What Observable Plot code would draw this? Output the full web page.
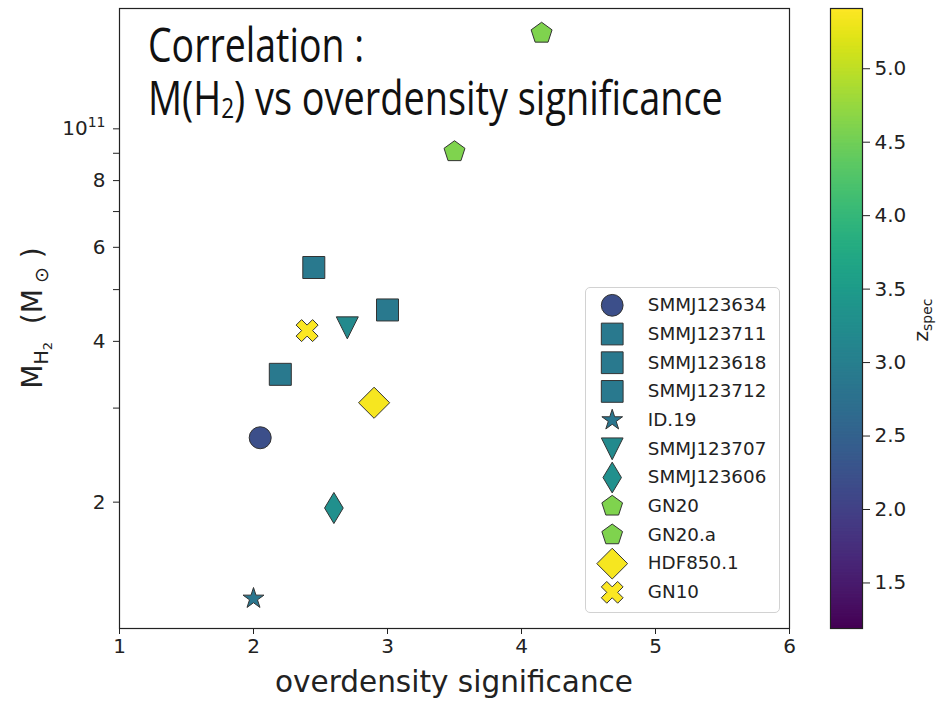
<!DOCTYPE html>
<html><head><meta charset="utf-8">
<script src="https://cdn.jsdelivr.net/npm/d3@7"></script>
<script src="https://cdn.jsdelivr.net/npm/@observablehq/plot@0.6"></script>
<style>
body{margin:0;background:#fff;}
#wrap{position:relative;width:940px;height:701px;overflow:hidden;font-family:"DejaVu Sans",sans-serif;background:#fff;}
#wrap > svg{position:absolute;left:0;top:0;}
#legend{position:absolute;left:585px;top:287px;width:195px;height:326px;box-sizing:border-box;border:1px solid #d2d2d2;border-radius:5px;background:rgba(255,255,255,0.85);}
#legend svg{position:absolute;left:-1px;top:-1px;}
</style></head><body><div id="wrap"></div>
<script>
// ---- data ----
const names = ["SMMJ123634","SMMJ123711","SMMJ123618","SMMJ123712","ID.19","SMMJ123707","SMMJ123606","GN20","GN20.a","HDF850.1","GN10"];
const shapes = ["circle","square","square","square","star","triangleDown","thinDiamond","pentagon","pentagon","diamond","xFilled"];
const overdensity = [2.05,2.45,3.0,2.2,2.0,2.7,2.6,4.15,3.5,2.9,2.4];
const mH2 = [2.64e10,5.5e10,4.58e10,3.47e10,1.32e10,4.24e10,1.95e10,1.51e11,9.06e10,3.07e10,4.19e10];
const zspec = [2.2,2.9,2.9,2.9,2.85,3.2,3.3,4.6,4.6,5.36,5.38];
const xTicks = [1,2,3,4,5,6];
const yTicksMajor = [2e10,4e10,6e10,8e10,1e11];
const yTicksMinor = [3e10,5e10,7e10,9e10];
const zTicks = [1.5,2.0,2.5,3.0,3.5,4.0,4.5,5.0];
const zRange = [1.19,5.41];
const title1 = "Correlation :";
const title2a = "M(H", title2sub = "2", title2b = ") vs overdensity significance";
const xLabel = "overdensity significance";

// ---- custom marker shapes (matplotlib-like) ----
const R = s => Math.sqrt(s / Math.PI);
function poly(c, pts){ pts.forEach((p,i)=> i ? c.lineTo(p[0],p[1]) : c.moveTo(p[0],p[1])); c.closePath(); }
const SYM = {
  circle: {draw(c,s){const r=R(s); c.moveTo(r,0); c.arc(0,0,r,0,2*Math.PI);}},
  square: {draw(c,s){const r=R(s); c.rect(-r,-r,2*r,2*r);}},
  star: {draw(c,s){const r=R(s), ri=r*0.381966; const p=[]; for(let i=0;i<10;i++){const a=Math.PI*i/5-Math.PI/2; const rr=i%2?ri:r; p.push([rr*Math.cos(a), rr*Math.sin(a)]);} poly(c,p);}},
  triangleDown: {draw(c,s){const r=R(s); poly(c,[[-r,-r],[r,-r],[0,r]]);}},
  thinDiamond: {draw(c,s){const r=R(s), h=1.414*r, w=0.6*h; poly(c,[[0,-h],[w,0],[0,h],[-w,0]]);}},
  diamond: {draw(c,s){const r=R(s), h=1.414*r; poly(c,[[0,-h],[h,0],[0,h],[-h,0]]);}},
  pentagon: {draw(c,s){const r=R(s); const p=[]; for(let k=0;k<5;k++){const a=-Math.PI/2+2*Math.PI*k/5; p.push([r*Math.cos(a), r*Math.sin(a)]);} poly(c,p);}},
  xFilled: {draw(c,s){const r=R(s)/2; poly(c,[[-1,-2],[0,-1],[1,-2],[2,-1],[1,0],[2,1],[1,2],[0,1],[-1,2],[-2,1],[-1,0],[-2,-1]].map(([x,y])=>[x*r,y*r]));}}
};
const shapeKinds = Array.from(new Set(shapes));

const data = names.map((name,i)=>({name, shape:shapes[i], x:overdensity[i], y:mH2[i], z:zspec[i]}));
const colorScale = {type:"linear", scheme:"viridis", domain:zRange};
const font = "DejaVu Sans, sans-serif";
const ink = "#222";

const wrap = document.getElementById("wrap");

// ---- main scatter ----
const main = Plot.plot({
  width:940, height:701, marginLeft:119, marginRight:151, marginTop:8, marginBottom:73,
  style:{fontFamily:font, background:"transparent", color:ink},
  x:{domain:[1,6]},
  y:{type:"log", domain:[1.16e10,1.68e11]},
  color: colorScale,
  marks:[
    Plot.axisX({ticks:xTicks, tickSize:6, tickPadding:4, fontSize:20, label:null, tickFormat:d=>String(d)}),
    Plot.axisY({ticks:yTicksMajor, tickSize:6, tickPadding:8, fontSize:20, label:null,
      tickFormat:d=> d >= 1e11 ? "10^11" : String(Math.round(d/1e10))}),
    Plot.axisY({ticks:yTicksMinor, tickSize:6, label:null, tickFormat:()=>""}),
    ...shapeKinds.map(k => Plot.dot(data, {filter:d=>d.shape===k, x:"x", y:"y", fill:"z", symbol:SYM[k], r:11, stroke:"#333", strokeWidth:1})),
    Plot.frame({stroke:ink, strokeWidth:1.2})
  ]
});
wrap.appendChild(main);

// ---- colorbar ----
const step = 0.01;
const stops = d3.range(zRange[0], zRange[1], step);
const cb = Plot.plot({
  width:940, height:701, marginLeft:830, marginRight:78, marginTop:8, marginBottom:73,
  style:{fontFamily:font, background:"transparent", color:ink},
  x:{domain:[0,1], axis:null},
  y:{domain:zRange},
  color: colorScale,
  marks:[
    Plot.rect(stops, {x1:0, x2:1, y1:d=>d, y2:d=>Math.min(d+step*1.8, zRange[1]), fill:d=>d+step/2}),
    Plot.axisY({anchor:"right", ticks:zTicks, tickFormat:d=>d.toFixed(1), tickSize:7, tickPadding:5, fontSize:20, label:null}),
    Plot.frame({stroke:ink, strokeWidth:1.2})
  ]
});
wrap.appendChild(cb);

// ---- legend ----
const legDiv = document.createElement("div");
legDiv.id = "legend";
wrap.appendChild(legDiv);
const leg = Plot.plot({
  width:195, height:326, marginTop:16, marginBottom:17, marginLeft:0, marginRight:0,
  style:{fontFamily:font, background:"transparent", color:ink},
  y:{type:"point", domain:names, padding:0, axis:null},
  x:{axis:null},
  color: colorScale,
  marks:[
    ...shapeKinds.map(k => Plot.dot(data, {filter:d=>d.shape===k, y:"name", fill:"z", symbol:SYM[k], r:11, stroke:"#333", strokeWidth:1, frameAnchor:"left", dx:27})),
    Plot.text(data, {y:"name", text:"name", frameAnchor:"left", dx:63, textAnchor:"start", fontSize:18.5, fill:ink})
  ]
});
legDiv.appendChild(leg);

// ---- text decorations ----
const svg = d3.select(main);
// superscript 10^11
svg.selectAll("text").filter(function(){return this.textContent==="10^11";}).each(function(){
  const t = d3.select(this); t.text("");
  t.append("tspan").text("10");
  t.append("tspan").attr("dy",-8).attr("font-size",14).text("11");
});
// x label
svg.append("text").attr("x",454).attr("y",692).attr("text-anchor","middle")
  .attr("font-size",29.5).attr("fill",ink).text(xLabel);
// y label
const yl = svg.append("text").attr("transform","translate(42,318) rotate(-90)").attr("text-anchor","middle")
  .attr("font-size",28).attr("fill",ink);
yl.append("tspan").text("M");
yl.append("tspan").attr("font-size",19).attr("dy",6).text("H");
yl.append("tspan").attr("font-size",13).attr("dy",4).text("2");
yl.append("tspan").attr("dy",-10).text("  (M");
yl.append("tspan").attr("font-size",19).attr("dy",6).text(" ⊙");
yl.append("tspan").attr("dy",-6).text(" )");
// title
function titleLine(y, build, targetW){
  const t = svg.append("text").attr("font-family","Open Sans, sans-serif").attr("font-size",47)
    .attr("fill","#111").attr("text-anchor","start").attr("x",0).attr("y",0);
  build(t);
  const w = t.node().getComputedTextLength();
  t.attr("transform",`translate(148,${y}) scale(${targetW/w},1)`);
}
titleLine(62, t=>t.text(title1), 216);
titleLine(115, t=>{
  t.append("tspan").text(title2a);
  t.append("tspan").attr("font-size",28).attr("dy",3).text(title2sub);
  t.append("tspan").attr("dy",-3).text(title2b);
}, 575);
// colorbar label
const cbs = d3.select(cb);
const zl = cbs.append("text").attr("transform","translate(928,320) rotate(-90)").attr("text-anchor","middle")
  .attr("font-size",20).attr("fill",ink);
zl.append("tspan").text("z");
zl.append("tspan").attr("font-size",14).attr("dy",4).text("spec");
</script></body></html>
